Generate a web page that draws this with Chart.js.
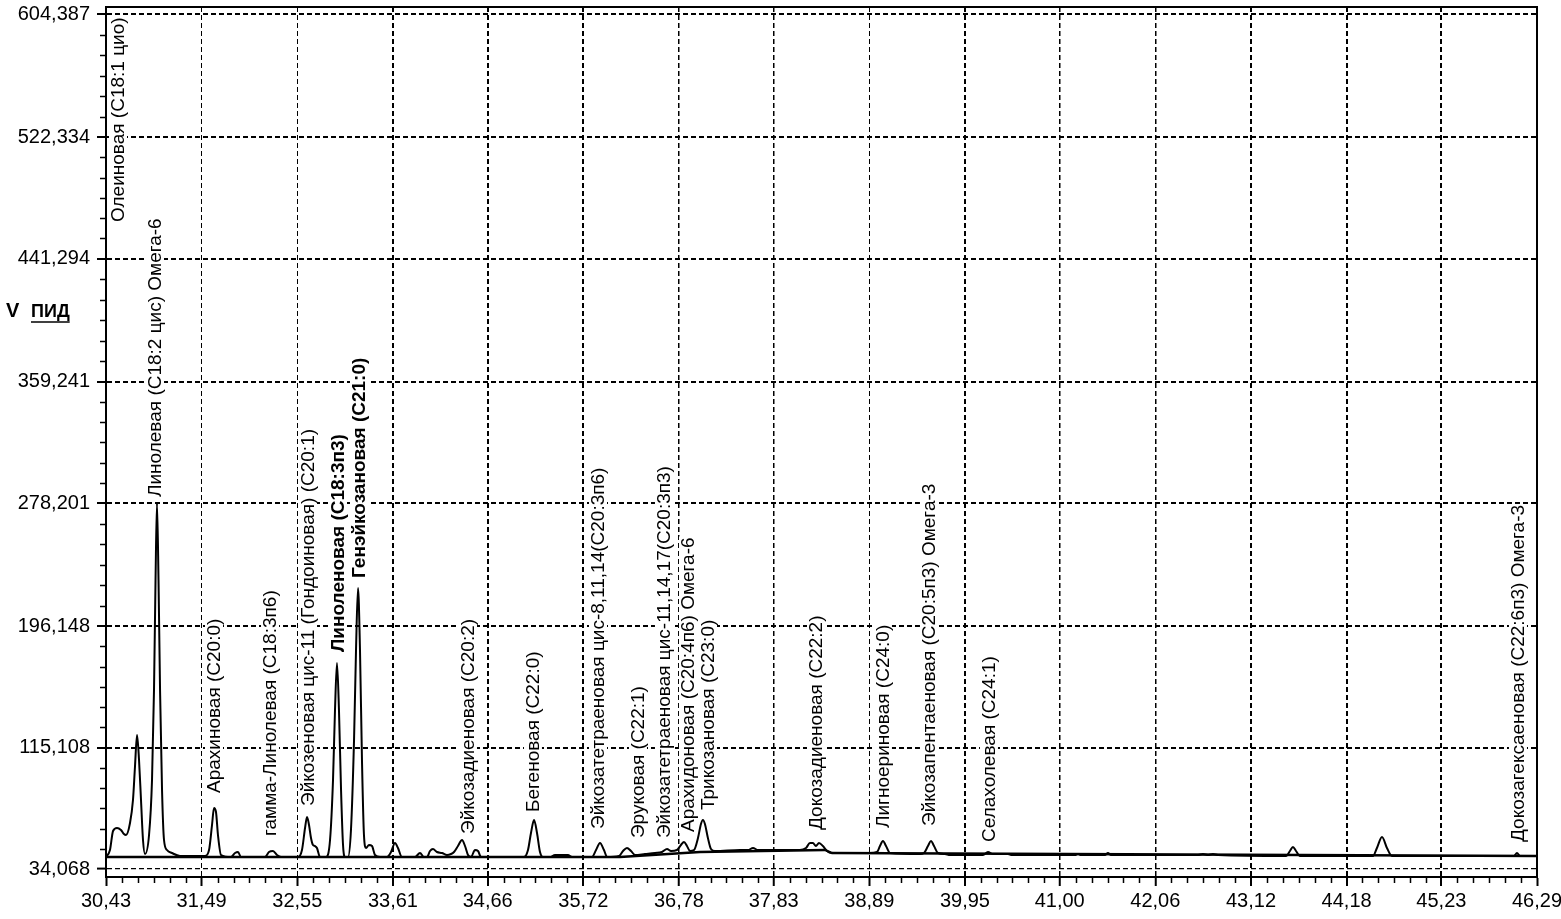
<!DOCTYPE html>
<html>
<head>
<meta charset="utf-8">
<script src="https://cdn.jsdelivr.net/npm/chart.js@4.4.0/dist/chart.umd.min.js"></script>
<style>
html,body{margin:0;padding:0;background:#fff;}
canvas{display:block;}
</style>
</head>
<body>
<canvas id="c" width="1561" height="919"></canvas>
<script>
// ---- Data ----
const retentionTime = [
30.430,30.474,30.508,30.552,30.596,30.629,30.652,30.696,30.729,30.751,30.774,30.796,30.818,30.840,30.862,
30.907,30.940,30.962,30.979,30.995,31.012,31.029,31.051,31.073,31.106,31.161,31.250,
31.527,31.572,31.605,31.627,31.649,31.671,31.705,31.815,31.860,31.893,31.926,
32.192,32.236,32.281,32.325,32.370,
32.558,32.602,32.636,32.658,32.680,32.702,32.724,32.746,32.768,32.802,
32.868,32.913,32.946,32.968,32.990,33.012,33.035,33.057,33.079,
33.112,33.145,33.179,33.201,33.223,33.245,33.267,33.289,33.312,33.345,33.378,33.411,33.467,
33.544,33.589,33.633,33.666,33.710,33.855,33.910,33.954,33.988,34.021,34.054,34.098,34.154,34.209,34.254,
34.287,34.331,34.376,34.409,34.442,34.475,34.520,34.553,34.586,
35.063,35.107,35.140,35.174,35.207,35.240,35.273,35.351,35.406,35.550,35.595,
35.816,35.861,35.905,35.949,35.983,36.116,36.160,36.204,36.249,36.293,
36.404,36.515,36.592,36.648,36.692,36.758,36.802,36.836,36.869,36.902,
36.947,36.991,37.024,37.046,37.068,37.101,37.135,37.179,37.456,37.545,37.601,37.656,
38.121,38.188,38.232,38.265,38.298,38.332,38.376,38.420,38.476,38.897,
38.975,39.008,39.041,39.075,39.119,39.452,39.496,39.540,39.573,39.607,39.651,39.729,39.784,
40.150,40.205,40.260,40.427,40.471,41.169,41.203,41.236,41.502,41.535,41.568,
42.533,42.588,42.644,42.699,42.754,43.508,43.552,43.585,43.619,43.663,
44.472,44.516,44.572,44.627,44.682,46.035,46.068,46.102,46.290
];
const signalPID = [
42.07,46.74,59.41,61.42,60.08,57.41,56.75,64.75,80.09,102.1,123.4,106.8,80.09,53.41,44.07,
56.75,93.43,153.46,226.83,278.19,226.83,153.46,86.76,53.41,46.74,44.74,42.74,
42.74,46.74,63.42,74.76,72.09,56.75,43.41,42.07,44.74,45.41,42.07,
42.07,45.41,46.07,43.41,42.07,
42.07,46.74,61.42,68.75,63.42,54.74,50.08,49.41,48.08,42.07,
42.07,53.41,93.43,140.12,171.47,140.12,86.76,50.08,42.07,
42.07,60.08,120.11,180.14,221.5,180.14,106.77,56.75,48.08,50.08,49.41,43.41,42.07,
42.07,45.41,51.41,48.08,42.07,42.07,44.74,42.07,42.07,46.07,47.41,45.41,44.74,43.41,44.07,
45.41,49.41,53.41,49.41,43.41,42.07,46.74,46.07,42.07,
42.07,46.74,58.08,66.75,58.08,45.41,42.07,42.07,43.41,43.41,42.07,
42.07,46.74,51.41,46.74,42.07,42.74,46.07,48.08,46.07,43.41,
44.07,44.74,45.41,47.41,46.07,46.74,50.08,52.08,49.41,46.07,
46.74,54.74,64.08,66.75,64.08,54.74,47.41,46.07,46.74,46.74,48.08,46.74,
46.74,48.08,51.41,51.41,49.41,51.41,49.41,46.07,44.74,44.74,
45.41,49.41,52.74,49.41,44.74,44.07,44.74,49.41,52.74,49.41,44.74,44.07,43.41,
43.41,45.41,44.07,44.07,43.41,43.41,44.07,43.41,43.41,44.74,43.41,
43.41,44.07,43.41,44.07,43.41,42.74,46.07,48.74,46.07,42.74,
42.74,48.08,55.41,48.08,42.74,42.74,44.74,42.74,42.74
];
const baselineTime   = [30.43, 36.127, 37.013, 38.399, 38.476, 46.29];
const baselineSignal = [42.07, 42.07, 45.41, 46.74, 44.74, 42.74];

const xTickValues = [30.43,31.49,32.55,33.61,34.66,35.72,36.78,37.83,38.89,39.95,41.00,42.06,43.12,44.18,45.23,46.29];
const xTickLabels = ['30,43','31,49','32,55','33,61','34,66','35,72','36,78','37,83','38,89','39,95','41,00','42,06','43,12','44,18','45,23','46,29'];
const yTickValues = [34.068,115.108,196.148,278.201,359.241,441.294,522.334,604.387];
const yTickLabels = ['34,068','115,108','196,148','278,201','359,241','441,294','522,334','604,387'];

const peakNames = [
'Олеиновая (C18:1 цио)',
'Линолевая (C18:2 цис) Омега-6',
'Арахиновая (C20:0)',
'гамма-Линолевая (C18:3п6)',
'Эйкозеновая цис-11 (Гондоиновая) (C20:1)',
'Линоленовая (C18:3п3)',
'Генэйкозановая (C21:0)',
'Эйкозадиеновая (C20:2)',
'Бегеновая (C22:0)',
'Эйкозатетраеновая цис-8,11,14(C20:3п6)',
'Эруковая (C22:1)',
'Эйкозатетраеновая цис-11,14,17(C20:3п3)',
'Арахидоновая (C20:4п6) Омега-6',
'Трикозановая (C23:0)',
'Докозадиеновая (C22:2)',
'Лигноериновая (C24:0)',
'Эйкозапентаеновая (C20:5п3) Омега-3',
'Селахолевая (C24:1)',
'Докозагексаеновая (C22:6п3) Омега-3'
];
const peakTime  = [30.563,30.973,31.627,32.248,32.669,33.001,33.234,34.442,35.162,35.883,36.326,36.614,36.880,37.102,38.299,39.041,39.551,40.216,46.079];
const peakLabelLevel = [465.6,282.2,84.76,56.08,76.09,178.8,228.2,57.4,72.1,60.75,54.7,54.7,58.75,73.4,60.08,61.4,62.75,52.1,52.1];
const peakBold = [false,false,false,false,false,true,true,false,false,false,false,false,false,false,false,false,false,false,false];

// ---- build library data from arrays ----
const traceData = retentionTime.map((t,i)=>({x:t, y:signalPID[i]}));
const baseData = baselineTime.map((t,i)=>({x:t, y:baselineSignal[i]}));

const FONT = '"Liberation Sans", Arial, sans-serif';
const vGridWidth = [0,1,1,2,2,2,1.5,1.5,1,2,1.5,1.5,2,2,2,0];

const framePlugin = {
  id:'frame',
  afterDraw(chart){
    const {ctx, chartArea:a, scales:{x,y}} = chart;
    ctx.save();
    ctx.strokeStyle='#000';
    ctx.lineWidth=2;
    ctx.strokeRect(a.left, a.top, a.right-a.left, a.bottom-a.top);
    ctx.lineWidth=1.5;
    ctx.beginPath();
    for(let i=0;i<xTickValues.length-1;i++){
      for(let k=1;k<6;k++){
        const px = Math.round(x.getPixelForValue(xTickValues[i]+(xTickValues[i+1]-xTickValues[i])*k/6))+0.5;
        ctx.moveTo(px, a.bottom); ctx.lineTo(px, a.bottom+6);
      }
    }
    for(let i=0;i<yTickValues.length-1;i++){
      for(let k=1;k<6;k++){
        const py = Math.round(y.getPixelForValue(yTickValues[i]+(yTickValues[i+1]-yTickValues[i])*k/6))+0.5;
        ctx.moveTo(a.left, py); ctx.lineTo(a.left-6, py);
      }
    }
    ctx.stroke();
    // axis title
    ctx.fillStyle='#000';
    ctx.textBaseline='middle';
    ctx.textAlign='left';
    ctx.font='bold 20px '+FONT;
    ctx.fillText('V', 6, 311);
    ctx.font='bold 18px '+FONT;
    ctx.fillText('ПИД', 31, 312);
    const w = ctx.measureText('ПИД').width;
    ctx.lineWidth=1.5;
    ctx.beginPath(); ctx.moveTo(31, 322); ctx.lineTo(31+w, 322); ctx.stroke();
    ctx.restore();
  }
};

const labelPlugin = {
  id:'peakLabels',
  beforeDatasetsDraw(chart){
    const {ctx, chartArea:a, scales:{x,y}} = chart;
    ctx.save();
    ctx.beginPath(); ctx.rect(a.left+1, a.top+1, a.right-a.left-2, a.bottom-a.top-2); ctx.clip();
    peakNames.forEach((name,i)=>{
      const px = x.getPixelForValue(peakTime[i]);
      const py = y.getPixelForValue(peakLabelLevel[i]);
      ctx.save();
      ctx.translate(px, py);
      ctx.rotate(-Math.PI/2);
      ctx.font = (peakBold[i]?'bold ':'')+'19px '+FONT;
      ctx.textAlign='left';
      ctx.textBaseline='middle';
      const w = ctx.measureText(name).width;
      ctx.fillStyle='#fff';
      ctx.fillRect(-1,-9,w+2,18);
      ctx.fillStyle='#000';
      ctx.fillText(name,0,1);
      ctx.restore();
    });
    ctx.restore();
  }
};

new Chart(document.getElementById('c'), {
  type:'line',
  data:{
    datasets:[
      {label:'ПИД', data:traceData, borderColor:'#000', borderWidth:2, pointRadius:0, cubicInterpolationMode:'monotone', fill:false},
      {label:'baseline', data:baseData, borderColor:'#000', borderWidth:2.4, pointRadius:0, tension:0, fill:false}
    ]
  },
  options:{
    responsive:false,
    animation:false,
    devicePixelRatio:1,
    layout:{padding:{left:0, top:7, right:24, bottom:0}},
    plugins:{legend:{display:false}, tooltip:{enabled:false}},
    scales:{
      x:{
        type:'linear', min:30.43, max:46.29,
        afterBuildTicks(s){ s.ticks = xTickValues.map(v=>({value:v})); },
        afterFit(s){ s.height = 42; s.paddingLeft=0; s.paddingRight=0; },
        ticks:{ autoSkip:false, maxRotation:0, color:'#000', padding:3,
          font:{family:FONT, size:20},
          callback(v,i){ return xTickLabels[i]; } },
        grid:{ color:(c)=> (c.index===0||c.index===xTickValues.length-1)?'rgba(0,0,0,0)':'#000',
          lineWidth:(c)=> vGridWidth[c.index] || 1, tickColor:'#000', tickWidth:2, tickLength:9, drawTicks:true },
        border:{display:true, color:'#000', width:2, dash:[5,3]}
      },
      y:{
        type:'linear', min:28.73, max:609.06,
        afterBuildTicks(s){ s.ticks = yTickValues.map(v=>({value:v})); },
        afterFit(s){ s.width = 106; s.paddingTop=0; s.paddingBottom=0; },
        ticks:{ autoSkip:false, color:'#000', padding:7,
          font:{family:FONT, size:20},
          callback(v,i){ return yTickLabels[i]; } },
        grid:{ color:'#000', lineWidth:(c)=> c.index===0?1.2:2, tickColor:'#000', tickWidth:2, tickLength:9 },
        border:{display:true, color:'#000', width:2, dash:[5,3]}
      }
    }
  },
  plugins:[labelPlugin, framePlugin]
});
</script>
</body>
</html>
